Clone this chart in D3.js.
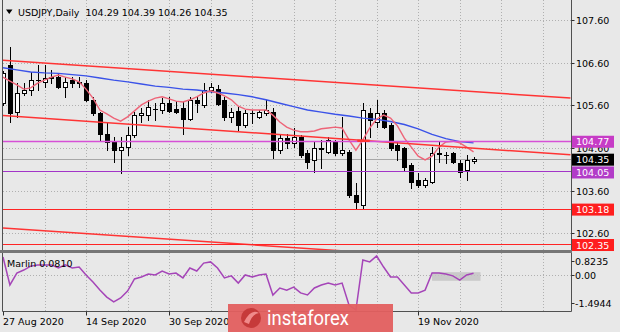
<!DOCTYPE html>
<html><head><meta charset="utf-8">
<script src="https://cdn.jsdelivr.net/npm/d3@7/dist/d3.min.js"></script>
<style>html,body{margin:0;padding:0;background:#e8e8e8;} svg{display:block;}</style>
</head><body>
<svg id="c" width="620" height="332"></svg>
<script>
// ---------- data ----------
const symbolTitle = "USDJPY,Daily";
const titleOHLC = ["104.29", "104.39", "104.26", "104.35"];
const opens  = [105.65,106.55,105.45,105.90,105.96,106.19,106.15,106.26,106.27,106.04,106.19,106.14,106.12,105.73,105.41,104.94,104.75,104.55,104.63,104.90,105.37,105.37,105.52,105.49,105.65,105.51,105.53,105.27,105.73,105.61,105.96,105.98,105.72,105.32,105.47,105.14,105.43,105.33,105.41,105.45,104.55,104.83,104.71,104.86,104.48,104.32,104.59,104.51,104.75,104.48,104.51,103.50,103.26,105.41,105.22,105.41,105.14,104.67,104.59,104.20,103.85,103.73,103.81,104.48,104.44,104.48,104.26,104.08,104.29];
const highs  = [106.40,106.97,106.12,106.12,106.39,106.55,106.55,106.43,106.35,106.27,106.27,106.27,106.19,105.80,105.45,105.18,104.86,104.86,105.10,105.45,105.53,105.73,105.65,105.77,105.80,105.69,105.69,105.80,105.80,106.13,106.13,106.08,105.80,105.53,105.57,105.49,105.49,105.49,105.73,105.53,104.90,104.94,105.06,104.90,104.55,104.75,104.79,104.86,104.79,105.33,104.55,103.77,105.65,105.53,105.73,105.49,105.18,104.75,104.63,104.24,104.01,103.89,104.63,104.75,104.51,104.51,104.32,104.44,104.39];
const lows   = [105.60,105.22,105.33,105.84,105.84,105.96,106.04,106.12,106.00,105.80,106.04,106.04,105.69,105.37,104.79,104.55,104.28,104.01,104.44,104.86,105.22,105.26,105.26,105.41,105.45,105.41,104.94,105.26,105.45,105.57,105.92,105.61,105.26,105.22,105.02,105.10,105.18,105.30,105.37,104.36,104.48,104.59,104.63,104.40,104.12,104.04,104.12,104.48,104.44,104.44,103.46,103.18,103.20,104.86,105.10,105.06,104.55,104.32,104.08,103.66,103.69,103.69,103.77,104.28,104.24,104.24,103.93,103.85,104.26];
const closes = [106.35,105.41,105.88,105.96,106.19,106.20,106.23,106.25,106.04,106.15,106.12,106.12,105.73,105.41,104.94,104.75,104.55,104.63,104.90,105.37,105.43,105.57,105.51,105.66,105.47,105.45,105.28,105.73,105.65,105.96,106.02,105.63,105.32,105.45,105.14,105.43,105.42,105.45,105.49,104.55,104.83,104.71,104.86,104.44,104.28,104.59,104.58,104.79,104.48,104.55,103.50,103.34,105.49,105.26,105.41,105.10,104.59,104.55,104.16,103.81,103.73,103.85,104.48,104.47,104.43,104.28,104.04,104.32,104.35];
const maFast = [106.26,106.17,106.08,105.98,106.01,106.12,106.19,106.26,106.31,106.26,106.22,106.15,105.98,105.77,105.49,105.40,105.30,105.23,105.33,105.47,105.61,105.70,105.77,105.80,105.75,105.70,105.68,105.73,105.80,105.89,105.94,105.89,105.82,105.73,105.58,105.51,105.49,105.49,105.49,105.37,105.21,105.09,105.02,104.98,104.98,105.00,105.05,105.07,105.09,105.07,104.79,104.55,104.79,105.07,105.28,105.37,105.30,105.12,104.83,104.62,104.41,104.32,104.41,104.62,104.74,104.76,104.72,104.62,104.51];
const maSlowIdx = [0,2,4,6,8,10,12,14,16,18,20,22,24,26,28,30,32,34,36,38,40,42,44,46,48,50,52,54,56,58,60,62,64,66,68];
const maSlow = [106.48,106.43,106.38,106.36,106.35,106.32,106.29,106.24,106.19,106.15,106.10,106.05,106.02,105.98,105.96,105.92,105.89,105.85,105.80,105.73,105.65,105.57,105.49,105.44,105.39,105.35,105.30,105.27,105.22,105.15,105.05,104.92,104.82,104.75,104.72];
const marlin = [0.78,-0.42,0.09,0.22,0.39,0.44,0.44,0.44,0.31,0.44,0.31,0.35,0.01,-0.29,-0.64,-0.94,-1.15,-0.98,-0.68,-0.16,-0.08,0.05,0.01,0.18,0.05,0.09,-0.12,0.31,0.18,0.52,0.57,0.31,-0.12,-0.03,-0.34,0.01,-0.08,0.01,0.05,-0.85,-0.55,-0.64,-0.51,-0.76,-0.85,-0.55,-0.42,-0.34,-0.42,-0.34,-1.28,-1.4944,0.65,0.57,0.8235,0.35,-0.08,-0.08,-0.42,-0.76,-0.76,-0.64,0.09,0.09,0.05,-0.03,-0.21,0.01,0.081];
const marlinName = "Marlin";
const marlinLast = "0.0810";
const priceTicks = [107.60, 106.60, 105.60, 104.60, 103.60, 102.60];
const levelValues = [104.77, 104.05, 103.18, 102.35];
const currentPrice = 104.35;
const marlinTicks = [0.8235, 0.00, -1.4944];
const dateLabels = ["27 Aug 2020", "14 Sep 2020", "30 Sep 2020", "19 Nov 2020"];
const dateIdx = [0, 12, 24, 60];
const trendStart = [[-0.5, 106.66], [-0.5, 105.37], [-0.5, 102.73]];
const trendEnd   = [[82, 105.77], [82, 104.44], [82, 101.83]];
const shortLevel = [51.2, 53, 104.77];
const marlinBox = [62, 69, 0.13, -0.24];
const brand = "instaforex";

// ---------- layout ----------
const svg = d3.select("#c");
const L = 2.5, R = 571.5, mainBottom = 250, indTop = 253, indBottom = 311.5;
const x = d3.scaleLinear().domain([0, 68]).range([3, 3 + 6.92 * 68]);
const y = d3.scaleLinear().domain([107.60, 102.60]).range([20, 233.35]);
const yM = d3.scaleLinear().domain([0.8235, -1.4944]).range([256, 310]);
const FONT = "DejaVu Sans, Verdana, sans-serif";

svg.append("rect").attr("width", 620).attr("height", 332).attr("fill", "#e8e8e8");

const defs = svg.append("defs");
defs.append("clipPath").attr("id", "cm").append("rect").attr("x", 3).attr("y", 0).attr("width", R - 3).attr("height", mainBottom);
defs.append("clipPath").attr("id", "ci").append("rect").attr("x", 3).attr("y", indTop).attr("width", R - 3).attr("height", indBottom - indTop);

const gM = svg.append("g").attr("clip-path", "url(#cm)");
const gI = svg.append("g").attr("clip-path", "url(#ci)");

// grid
const gridIdx = d3.range(6, 90, 6).filter(i => x(i) < R - 1);
const gridStyle = s => s.attr("stroke", "#b0b0b0").attr("stroke-width", 1).attr("stroke-dasharray", "1,2");
gM.selectAll(".vg").data(gridIdx).join("line").attr("x1", d => Math.round(x(d)) + 0.5).attr("x2", d => Math.round(x(d)) + 0.5).attr("y1", 0).attr("y2", mainBottom).call(gridStyle);
gM.selectAll(".hg").data(priceTicks).join("line").attr("x1", 3).attr("x2", R).attr("y1", d => Math.round(y(d)) + 0.5).attr("y2", d => Math.round(y(d)) + 0.5).call(gridStyle);
gI.selectAll(".vgi").data(gridIdx).join("line").attr("x1", d => Math.round(x(d)) + 0.5).attr("x2", d => Math.round(x(d)) + 0.5).attr("y1", indTop).attr("y2", indBottom).call(gridStyle);
gI.append("line").attr("x1", 3).attr("x2", R).attr("y1", Math.round(yM(0)) + 0.5).attr("y2", Math.round(yM(0)) + 0.5).call(gridStyle);

// current price line
gM.append("line").attr("x1", 3).attr("x2", R).attr("y1", Math.round(y(currentPrice)) + 0.5).attr("y2", Math.round(y(currentPrice)) + 0.5).attr("stroke", "#a8a8a8");

// candles
const bars = opens.map((o, i) => ({i, o, h: highs[i], l: lows[i], c: closes[i]}));
const cg = gM.append("g");
bars.forEach(b => {
  const cx = Math.round(x(b.i));
  cg.append("line").attr("x1", cx + 0.5).attr("x2", cx + 0.5).attr("y1", Math.round(y(b.h))).attr("y2", Math.round(y(b.l)) + 1).attr("stroke", "#000");
  const t = Math.round(y(Math.max(b.o, b.c))), bt = Math.round(y(Math.min(b.o, b.c)));
  if (bt - t < 1) {
    cg.append("line").attr("x1", cx - 2).attr("x2", cx + 3).attr("y1", t + 0.5).attr("y2", t + 0.5).attr("stroke", "#000");
  } else {
    cg.append("rect").attr("x", cx - 1.5).attr("y", t + 0.5).attr("width", 4).attr("height", bt - t)
      .attr("fill", b.c >= b.o ? "#ffffff" : "#000000").attr("stroke", "#000");
  }
});

// moving averages
const line = d3.line().x(d => x(d[0])).y(d => y(d[1]));
gM.append("path").attr("d", line(maSlow.map((v, k) => [maSlowIdx[k], v]))).attr("fill", "none").attr("stroke", "#3a52e8").attr("stroke-width", 1.4);
gM.append("path").attr("d", line(maFast.map((v, i) => [i, v]))).attr("fill", "none").attr("stroke", "#ee6478").attr("stroke-width", 1.4);

// objects: trend lines and levels
trendStart.forEach((s, k) => {
  gM.append("line").attr("x1", x(s[0])).attr("y1", y(s[1])).attr("x2", x(trendEnd[k][0])).attr("y2", y(trendEnd[k][1]))
    .attr("stroke", "#ff3434").attr("stroke-width", 1.5);
});
const levelColors = ["#d650d6", "#a234c8", "#ff2424", "#ff2424"];
const levelWidths = [1.6, 1.2, 1.2, 1.2];
levelValues.forEach((v, k) => {
  gM.append("line").attr("x1", 3).attr("x2", R).attr("y1", Math.round(y(v)) + 0.5).attr("y2", Math.round(y(v)) + 0.5)
    .attr("stroke", levelColors[k]).attr("stroke-width", levelWidths[k]);
});
gM.append("line").attr("x1", x(shortLevel[0])).attr("x2", x(shortLevel[1])).attr("y1", y(shortLevel[2])).attr("y2", y(shortLevel[2]))
  .attr("stroke", "#ff3434").attr("stroke-width", 2.5);

// indicator
gI.append("rect").attr("x", x(marlinBox[0])).attr("width", x(marlinBox[1]) - x(marlinBox[0]))
  .attr("y", yM(marlinBox[2])).attr("height", yM(marlinBox[3]) - yM(marlinBox[2])).attr("fill", "#c4c4c4").attr("opacity", 0.85);
const lineM = d3.line().x((d, i) => x(i)).y(d => yM(d));
gI.append("path").attr("d", lineM(marlin)).attr("fill", "none").attr("stroke", "#a545b8").attr("stroke-width", 1.5);
svg.append("text").attr("x", 7).attr("y", 266.5).attr("font-family", FONT).attr("font-size", 9.5).attr("fill", "#000")
  .text(marlinName + " " + marlinLast);

// frame
const frame = svg.append("g").attr("stroke", "#505050").attr("fill", "none");
frame.append("line").attr("x1", L).attr("x2", L).attr("y1", 0).attr("y2", indBottom);
frame.append("line").attr("x1", R).attr("x2", R).attr("y1", 0).attr("y2", indBottom);
frame.append("line").attr("x1", L).attr("x2", R).attr("y1", indBottom).attr("y2", indBottom);
svg.append("rect").attr("x", 0).attr("y", mainBottom).attr("width", R + 0.5).attr("height", indTop - mainBottom).attr("fill", "#767676");

// right price axis
const axg = svg.append("g").attr("font-family", FONT).attr("font-size", 9.5);
priceTicks.forEach(v => {
  const yy = Math.round(y(v)) + 0.5;
  axg.append("line").attr("x1", R).attr("x2", R + 3).attr("y1", yy).attr("y2", yy).attr("stroke", "#303030");
  axg.append("text").attr("x", 576).attr("y", yy + 3.5).attr("fill", "#000").text(v.toFixed(2));
});
const boxVals = [levelValues[0], currentPrice, levelValues[1], levelValues[2], levelValues[3]];
const boxFill = ["#c63cc6", "#000000", "#b23cc8", "#ff1e1e", "#ff1e1e"];
boxVals.forEach((v, k) => {
  const yy = y(v) + 1;
  axg.append("rect").attr("x", R + 0.5).attr("y", yy - 6).attr("width", 42).attr("height", 12).attr("fill", boxFill[k]);
  axg.append("text").attr("x", 576).attr("y", yy + 3.5).attr("fill", "#fff").text(v.toFixed(2));
});

// indicator axis
const mLabY = [yM(marlinTicks[0]) + 5, yM(marlinTicks[1]), yM(marlinTicks[2]) - 7];
marlinTicks.forEach((v, k) => {
  const yy = Math.round(mLabY[k]) + 0.5;
  axg.append("line").attr("x1", R).attr("x2", R + 3).attr("y1", yy).attr("y2", yy).attr("stroke", "#303030");
  axg.append("text").attr("x", 575).attr("y", yy + 3.5).attr("fill", "#000").text(v === 0 ? "0.00" : String(v));
});

// date axis
dateIdx.forEach((d, k) => {
  const xx = Math.round(x(d)) + 0.5;
  axg.append("line").attr("x1", xx).attr("x2", xx).attr("y1", indBottom).attr("y2", indBottom + 4).attr("stroke", "#303030");
  axg.append("text").attr("x", xx - 0.5).attr("y", 325).attr("fill", "#000").text(dateLabels[k]);
});

// title
svg.append("path").attr("d", "M6,9.5 L12.5,9.5 L9.25,14 Z").attr("fill", "#000");
svg.append("text").attr("x", 18).attr("y", 15.5).attr("font-family", FONT).attr("font-size", 9.5).attr("fill", "#000")
  .attr("xml:space", "preserve").text(symbolTitle + "  " + titleOHLC.join(" "));

// brand badge
const bg = svg.append("g");
bg.append("rect").attr("x", 228).attr("y", 304).attr("width", 165).attr("height", 28).attr("fill", "#e35f5f").attr("opacity", 0.95);
bg.append("ellipse").attr("cx", 251).attr("cy", 318).attr("rx", 10).attr("ry", 10).attr("fill", "#c63a3a");
bg.append("path").attr("d", "M244,322 Q251,308 259,313 Q252,314 249,324 Z").attr("fill", "#f08a8a");
bg.append("text").attr("x", 267).attr("y", 325).attr("font-family", "Roboto, 'Open Sans', sans-serif").attr("font-size", 20)
  .attr("fill", "#ffffff").attr("textLength", 82).attr("lengthAdjust", "spacingAndGlyphs").text(brand);
</script>
</body></html>
